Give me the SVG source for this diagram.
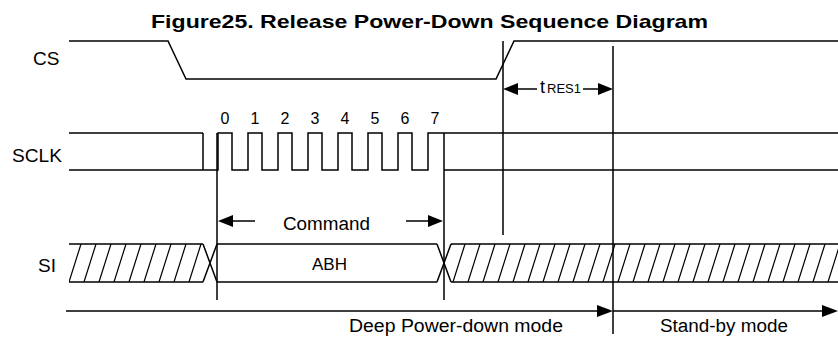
<svg xmlns="http://www.w3.org/2000/svg" width="838" height="343" viewBox="0 0 838 343">
<style>
.w{fill:none;stroke:#000;stroke-width:1.5}
.h{fill:none;stroke:#000;stroke-width:1.2}
.t{font-family:"Liberation Sans",Arial,sans-serif;fill:#000}
.lbl{font-size:19px}
.dg{font-size:16px;text-anchor:middle}
.ah{fill:#000;stroke:none}
</style>
<defs>
<clipPath id="siR"><rect x="451" y="240" width="387" height="46"/></clipPath>
<clipPath id="siL"><rect x="69" y="240" width="134" height="46"/></clipPath>
</defs>
<rect width="838" height="343" fill="#fff"/>
<text class="t" x="151" y="28" font-size="19" font-weight="bold" textLength="557" lengthAdjust="spacingAndGlyphs">Figure25. Release Power-Down Sequence Diagram</text>

<g id="cs">
<text class="t lbl" x="33" y="65">CS</text>
<path class="w" d="M69 41 L168 41 L186 79 L496 79 L514 41 L838 41"/>
</g>

<g id="sclk">
<text class="t lbl" x="12" y="162" textLength="50" lengthAdjust="spacingAndGlyphs">SCLK</text>
<path class="w" d="M69 133 L203 133 M69 170 L203 170 L203 133 M203 170 L218 170 L218 133 L232 133 L232 170 L248 170 L248 133 L262 133 L262 170 L278 170 L278 133 L292 133 L292 170 L308 170 L308 133 L322 133 L322 170 L338 170 L338 133 L352 133 L352 170 L368 170 L368 133 L382 133 L382 170 L398 170 L398 133 L412 133 L412 170 L428 170 L428 133 L444 133 M444 133 L838 133 M444 170 L838 170"/>
<text class="t dg" x="225" y="124">0</text>
<text class="t dg" x="255" y="124">1</text>
<text class="t dg" x="285" y="124">2</text>
<text class="t dg" x="315" y="124">3</text>
<text class="t dg" x="345" y="124">4</text>
<text class="t dg" x="375" y="124">5</text>
<text class="t dg" x="405" y="124">6</text>
<text class="t dg" x="435" y="124">7</text>
</g>

<g id="si">
<text class="t lbl" x="38" y="272">SI</text>
<path class="w" d="M69 244 L203 244 M69 282 L203 282 M203 244 L217 282 M203 282 L217 244 M217 244 L437 244 M217 282 L437 282 M437 244 L451 282 M437 282 L451 244 M451 244 L838 244 M451 282 L838 282"/>
<path class="h" clip-path="url(#siL)" d="M69 282 L81 244 M84 282 L96 244 M99 282 L111 244 M114 282 L126 244 M129 282 L141 244 M144 282 L156 244 M159 282 L171 244 M174 282 L186 244 M189 282 L201 244"/>
<path class="h" clip-path="url(#siR)" d="M453 282 L465 244 M468 282 L480 244 M483 282 L495 244 M498 282 L510 244 M513 282 L525 244 M528 282 L540 244 M543 282 L555 244 M558 282 L570 244 M573 282 L585 244 M588 282 L600 244 M603 282 L615 244 M618 282 L630 244 M633 282 L645 244 M648 282 L660 244 M663 282 L675 244 M678 282 L690 244 M693 282 L705 244 M708 282 L720 244 M723 282 L735 244 M738 282 L750 244 M753 282 L765 244 M768 282 L780 244 M783 282 L795 244 M798 282 L810 244 M813 282 L825 244 M828 282 L840 244"/>
<text class="t" x="329.5" y="270" font-size="17" text-anchor="middle">ABH</text>
</g>

<g id="connectors">
<path class="w" d="M217 133 L217 300 M444 133 L444 300 M503 41 L503 235 M613 46 L613 334"/>
<path class="w" d="M517 89 L537 89 M583 89 L599 89"/>
<path class="ah" d="M503 89 L518 83 L518 95 Z"/>
<path class="ah" d="M613 89 L598 83 L598 95 Z"/>
<path class="w" d="M232 221 L255 221 M406 221 L429 221"/>
<path class="ah" d="M218 221 L233 215 L233 227 Z"/>
<path class="ah" d="M443 221 L428 215 L428 227 Z"/>
<path class="w" d="M66 311 L599 311 M613 311 L824 311"/>
<path class="ah" d="M613 311 L597 305 L597 317 Z"/>
<path class="ah" d="M838 311 L822 305 L822 317 Z"/>
</g>

<text class="t" y="93"><tspan x="540" font-size="18">t</tspan><tspan x="547" font-size="12" textLength="34" lengthAdjust="spacingAndGlyphs">RES1</tspan></text>
<text class="t" x="283" y="230" font-size="18" textLength="87" lengthAdjust="spacingAndGlyphs">Command</text>
<text class="t" x="349" y="332" font-size="18" textLength="214" lengthAdjust="spacingAndGlyphs">Deep Power-down mode</text>
<text class="t" x="660" y="332" font-size="18" textLength="128" lengthAdjust="spacingAndGlyphs">Stand-by mode</text>
</svg>
